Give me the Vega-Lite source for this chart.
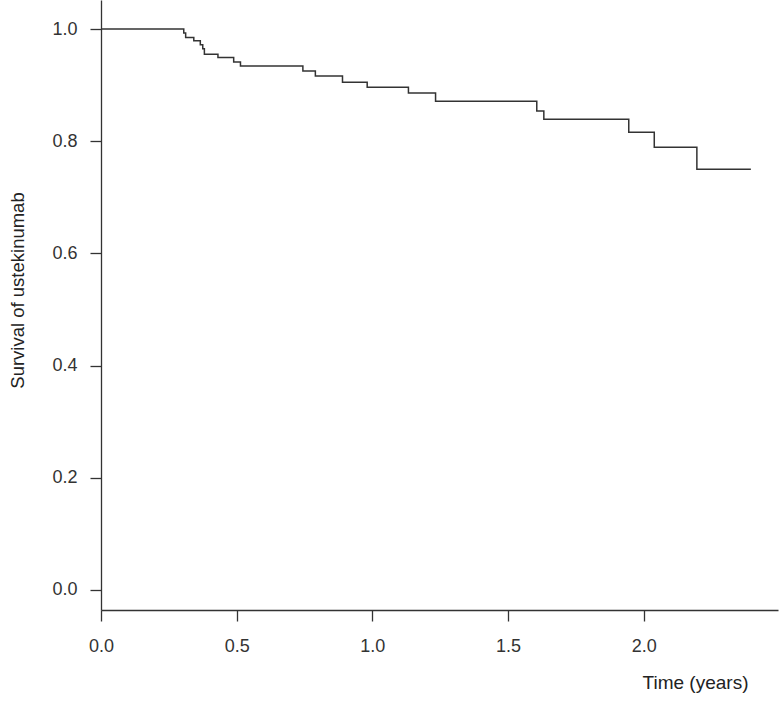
{
  "$schema": "https://vega.github.io/schema/vega-lite/v6.json",
  "width": 677,
  "height": 610,
  "autosize": {"type": "none"},
  "padding": {"left": 101, "top": 0, "right": 5, "bottom": 94},
  "background": "white",
  "config": {
    "view": {"stroke": null},
    "axis": {
      "labelFont": "Liberation Sans",
      "titleFont": "Liberation Sans",
      "labelFontSize": 18,
      "titleFontSize": 18.5,
      "titleFontWeight": "normal",
      "labelColor": "#333",
      "titleColor": "#222",
      "domainColor": "#333",
      "tickColor": "#333",
      "domainWidth": 1.3,
      "tickWidth": 1.3,
      "grid": false,
      "labelFlush": false,
      "labelOverlap": false
    }
  },
  "data": {
    "values": [
      {"t": 0.0, "s": 1.0},
      {"t": 0.305, "s": 0.993},
      {"t": 0.312, "s": 0.985},
      {"t": 0.342, "s": 0.979},
      {"t": 0.366, "s": 0.972},
      {"t": 0.375, "s": 0.965},
      {"t": 0.381, "s": 0.955},
      {"t": 0.431, "s": 0.949},
      {"t": 0.489, "s": 0.941},
      {"t": 0.514, "s": 0.934},
      {"t": 0.744, "s": 0.925},
      {"t": 0.790, "s": 0.916},
      {"t": 0.890, "s": 0.905},
      {"t": 0.981, "s": 0.896},
      {"t": 1.133, "s": 0.886},
      {"t": 1.233, "s": 0.871},
      {"t": 1.606, "s": 0.854},
      {"t": 1.632, "s": 0.839},
      {"t": 1.945, "s": 0.816},
      {"t": 2.039, "s": 0.789},
      {"t": 2.196, "s": 0.750},
      {"t": 2.395, "s": 0.750}
    ]
  },
  "mark": {"type": "line", "interpolate": "step-after", "color": "#333", "strokeWidth": 1.5},
  "encoding": {
    "x": {
      "field": "t",
      "type": "quantitative",
      "scale": {"domain": [0, 2.495], "nice": false, "zero": false},
      "axis": {
        "values": [0, 0.5, 1, 1.5, 2],
        "format": ".1f",
        "tickSize": 11,
        "labelPadding": 16,
        "title": "Time (years)",
        "titleFontSize": 19,
        "titleX": 647,
        "titleY": 72,
        "titleAlign": "right",
        "titleBaseline": "middle",
        "titleAnchor": null
      }
    },
    "y": {
      "field": "s",
      "type": "quantitative",
      "scale": {"domain": [-0.0357, 1.0517], "nice": false, "zero": false},
      "axis": {
        "values": [0, 0.2, 0.4, 0.6, 0.8, 1.0],
        "format": ".1f",
        "tickSize": 11,
        "labelPadding": 13,
        "title": "Survival of ustekinumab",
        "titleX": -84,
        "titleY": 290,
        "titleAlign": "center",
        "titleBaseline": "middle",
        "titleAngle": -90
      }
    }
  }
}
